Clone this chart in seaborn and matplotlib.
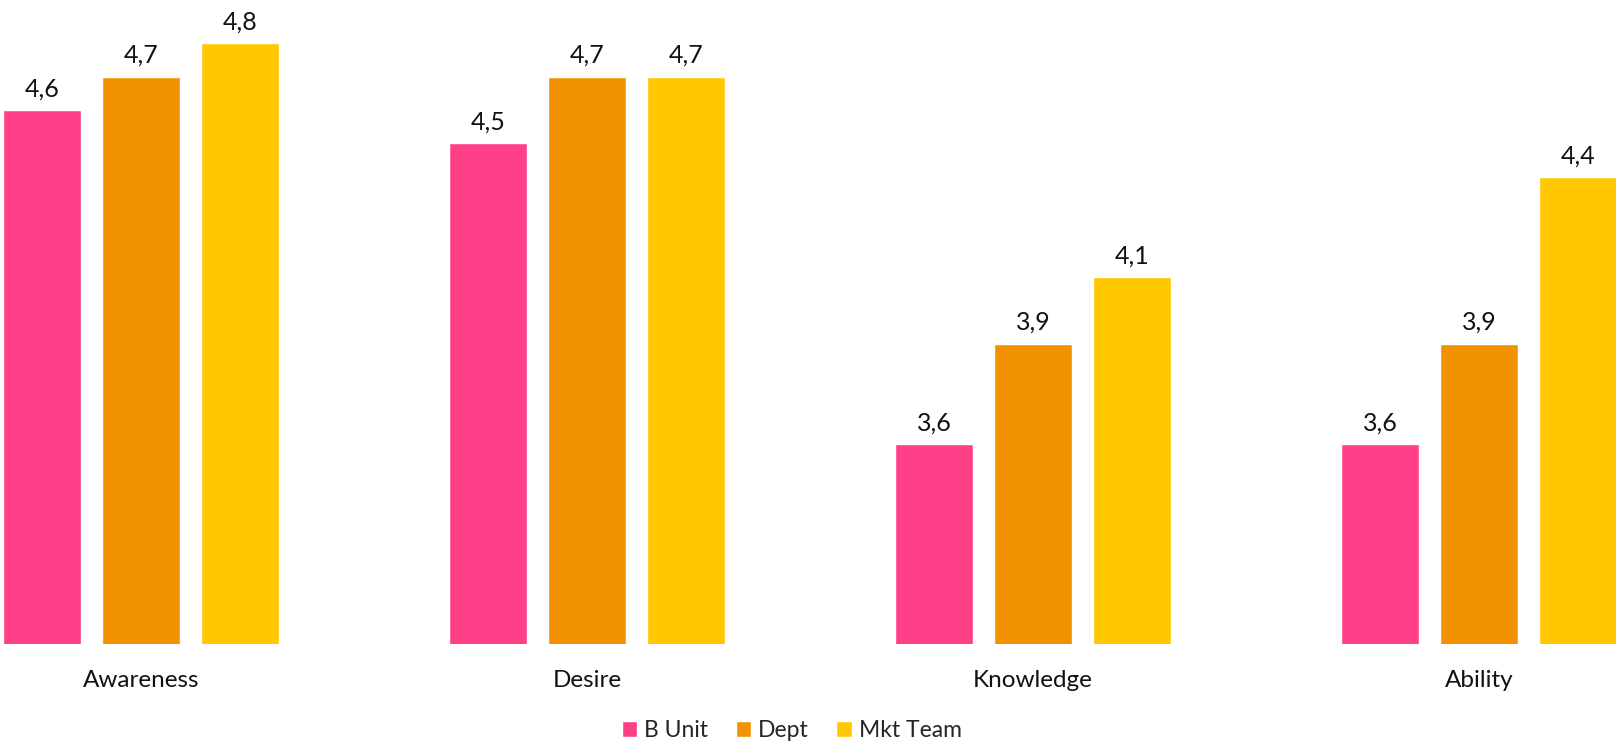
import matplotlib
matplotlib.use("Agg")
import matplotlib.pyplot as plt
import seaborn as sns
import pandas as pd

categories = ["Awareness", "Desire", "Knowledge", "Ability"]
series_names = ["B Unit", "Dept", "Mkt Team"]
b_unit = [4.6, 4.5, 3.6, 3.6]
dept = [4.7, 4.7, 3.9, 3.9]
mkt_team = [4.8, 4.7, 4.1, 4.4]
colors = ["#FF4088", "#F39200", "#FFC800"]

rows = []
for name, vals in zip(series_names, [b_unit, dept, mkt_team]):
    for c, v in zip(categories, vals):
        rows.append({"category": c, "series": name, "value": v})
df = pd.DataFrame(rows)

sns.set_theme(style="white")
plt.rcParams["font.family"] = ["Lato", "DejaVu Sans"]

fig = plt.figure(figsize=(16.16, 7.43), dpi=100)
ax = fig.add_axes([0, 0.1332, 1, 0.8668])

sns.barplot(data=df, x="category", y="value", hue="series", order=categories,
            hue_order=series_names, palette=colors, width=0.666, gap=0.21,
            saturation=1, ax=ax, legend=True)

ax.set_ylim(3.0, 4.93)
ax.set_xlim(-0.316, 3.307)
for cont in ax.containers:
    ax.bar_label(cont, labels=[f"{v:.1f}".replace(".", ",") for v in cont.datavalues],
                 padding=7, fontsize=18, color="#111111")

ax.set_xlabel("")
ax.set_ylabel("")
ax.set_yticks([])
ax.tick_params(axis="x", length=0, pad=18.5, labelsize=17.5, labelcolor="#111111")
for s in ax.spines.values():
    s.set_visible(False)

handles, labels = ax.get_legend_handles_labels()
ax.get_legend().remove()
fig.legend(handles, labels, loc="center", bbox_to_anchor=(0.49, 0.017), ncol=3,
           frameon=False, fontsize=16.5, handlelength=0.68, handleheight=0.68,
           handletextpad=0.3, columnspacing=1.2, borderaxespad=0)

fig.savefig("out.png", dpi=100)
